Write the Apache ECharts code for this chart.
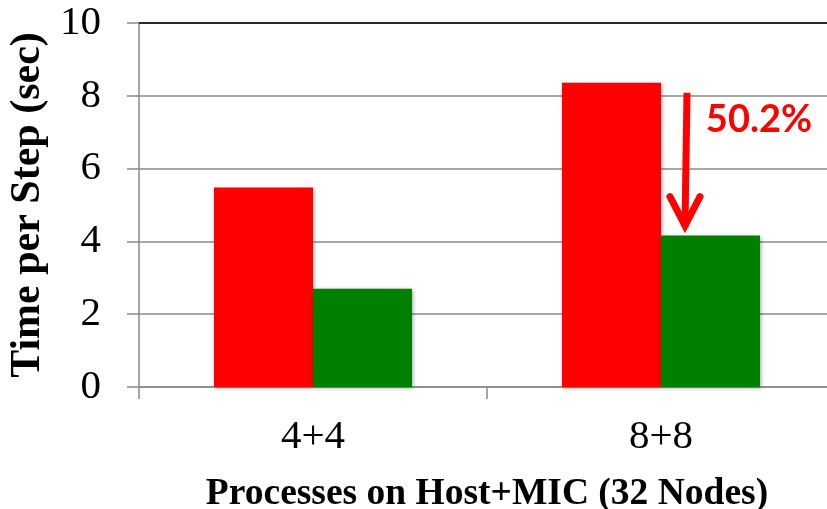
<!DOCTYPE html>
<html>
<head>
<meta charset="utf-8">
<script src="https://cdn.jsdelivr.net/npm/echarts@6/dist/echarts.min.js"></script>
<style>
  html, body { margin: 0; padding: 0; background: #fff; }
  #chart { width: 827px; height: 509px; }
</style>
</head>
<body>
<div id="chart"></div>
<script>
// Time per step for each Host+MIC process layout
const categories = ['4+4', '8+8'];
const baselineTimes = [5.48, 8.36];
const improvedTimes = [2.70, 4.16];
const yMin = 0;
const yMax = 10;
const yInterval = 2;
const reductionLabel = '50.2%';

const serif = '"Liberation Serif", "Times New Roman", serif';
const gridGray = '#8a8a8a';

const chart = echarts.init(document.getElementById('chart'), null, { renderer: 'canvas' });

const barShadow = {
  shadowBlur: 4,
  shadowColor: 'rgba(0,0,0,0.35)',
  shadowOffsetX: 1,
  shadowOffsetY: 1
};

chart.setOption({
  animation: false,
  backgroundColor: '#ffffff',
  // plot area runs slightly past the right edge of the canvas
  grid: { left: 139, right: -8, top: 23, bottom: 122, containLabel: false, outerBoundsMode: 'none' },
  xAxis: {
    type: 'category',
    data: categories,
    axisLine: { show: true, lineStyle: { color: gridGray, width: 1.5 } },
    axisTick: { show: true, length: 12, alignWithLabel: false, lineStyle: { color: gridGray, width: 1.5 } },
    axisLabel: { color: '#000', fontFamily: serif, fontSize: 41, margin: 30 },
    name: 'Processes on Host+MIC (32 Nodes)',
    nameLocation: 'middle',
    nameGap: 88,
    nameTextStyle: { color: '#000', fontFamily: serif, fontSize: 37.5, fontWeight: 'bold' }
  },
  yAxis: {
    type: 'value',
    min: yMin,
    max: yMax,
    interval: yInterval,
    axisLine: { show: true, lineStyle: { color: gridGray, width: 1.5 } },
    axisTick: { show: true, length: 12, inside: false, lineStyle: { color: gridGray, width: 1.5 } },
    axisLabel: { color: '#000', fontFamily: serif, fontSize: 41, margin: 38 },
    splitLine: { show: true, lineStyle: { color: gridGray, width: 1.5 } },
    name: 'Time per Step (sec)',
    nameLocation: 'middle',
    nameRotate: 90,
    nameGap: 88,
    nameTextStyle: { color: '#000', fontFamily: serif, fontSize: 42, fontWeight: 'bold' }
  },
  series: [
    {
      name: 'Before',
      type: 'bar',
      data: baselineTimes,
      barWidth: 99,
      barGap: '0%',
      itemStyle: Object.assign({ color: '#ff0000' }, barShadow),
      markLine: {
        silent: true,
        symbol: 'none',
        label: { show: false },
        lineStyle: { color: '#000', width: 1.5, type: 'solid' },
        data: [{ yAxis: yMax }]
      }
    },
    {
      name: 'After',
      type: 'bar',
      data: improvedTimes,
      barWidth: 99,
      barGap: '0%',
      itemStyle: Object.assign({ color: '#008000' }, barShadow)
    }
  ]
});

// Reduction arrow between the two 8+8 bars, anchored to their values
function drawAnnotation() {
  const idx = 1;
  const center = chart.convertToPixel({ xAxisIndex: 0 }, categories[idx]);
  const topY = chart.convertToPixel({ yAxisIndex: 0 }, baselineTimes[idx]);
  const lowY = chart.convertToPixel({ yAxisIndex: 0 }, improvedTimes[idx]);
  const ax = center + 24;
  const y0 = topY + 10;
  const y1 = lowY - 9;
  chart.setOption({
    graphic: [
      {
        type: 'line',
        id: 'arrowShaft',
        shape: { x1: ax + 2, y1: y0, x2: ax, y2: y1 },
        style: { stroke: '#ff0000', lineWidth: 7, lineCap: 'butt' },
        z: 100
      },
      {
        type: 'polyline',
        id: 'arrowHead',
        shape: { points: [[ax - 15, y1 - 30], [ax, y1 - 1], [ax + 15, y1 - 30]] },
        style: { stroke: '#ff0000', fill: null, lineWidth: 7, lineCap: 'round', lineJoin: 'miter' },
        z: 100
      },
      {
        type: 'text',
        id: 'arrowLabel',
        x: ax + 74,
        y: y0 + 27,
        style: {
          text: reductionLabel,
          fill: '#ff0000',
          font: 'bold 38px Lato, "Open Sans", sans-serif',
          align: 'center',
          verticalAlign: 'middle'
        },
        z: 100
      }
    ]
  });
}
drawAnnotation();
</script>
</body>
</html>
